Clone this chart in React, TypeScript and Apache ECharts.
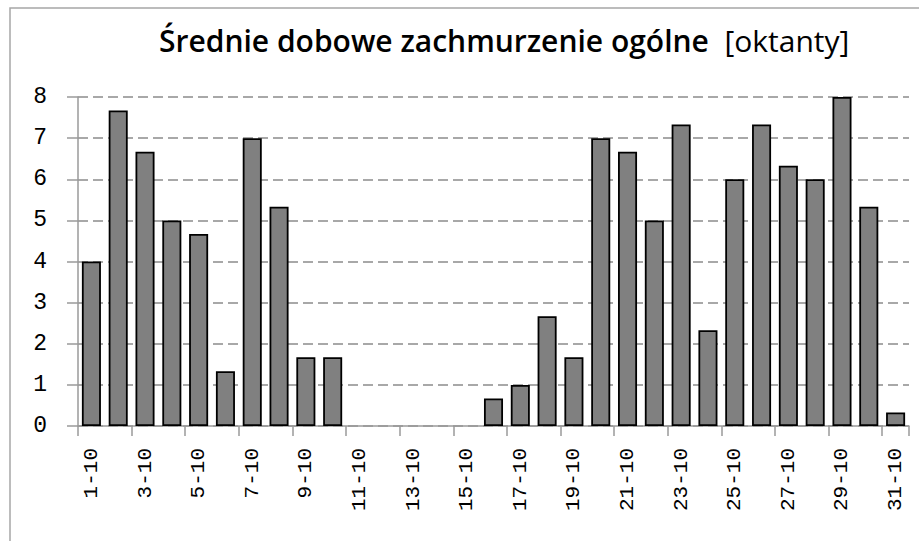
import React, { useEffect, useRef } from "react";
import * as echarts from "echarts";

const categories: string[] = [
  "1-10", "2-10", "3-10", "4-10", "5-10", "6-10", "7-10", "8-10", "9-10", "10-10",
  "11-10", "12-10", "13-10", "14-10", "15-10", "16-10", "17-10", "18-10", "19-10", "20-10",
  "21-10", "22-10", "23-10", "24-10", "25-10", "26-10", "27-10", "28-10", "29-10", "30-10", "31-10",
];

const cloudValues: number[] = [
  4, 7.67, 6.67, 5, 4.67, 1.33, 7, 5.33, 1.67, 1.67,
  0, 0, 0, 0, 0, 0.67, 1, 2.67, 1.67, 7,
  6.67, 5, 7.33, 2.33, 6, 7.33, 6.33, 6, 8, 5.33, 0.33,
];

const yTicks: number[] = [0, 1, 2, 3, 4, 5, 6, 7, 8];

const titleMain = "Średnie dobowe zachmurzenie ogólne";
const titleUnit = "[oktanty]";

export default function App() {
  const ref = useRef<HTMLDivElement>(null);

  useEffect(() => {
    document.body.style.margin = "0";
    if (!ref.current) return;
    const chart = echarts.init(ref.current, null, { renderer: "svg" });
    const axisGray = "#9a9a9a";
    const labelFont = "'Liberation Mono', monospace";
    const barData = cloudValues.map((v) =>
      v === 0 ? { value: v, itemStyle: { borderWidth: 0 } } : v
    );
    chart.setOption({
      animation: false,
      backgroundColor: "#ffffff",
      graphic: [
        {
          type: "rect",
          shape: { x: 10, y: 8, width: 2000, height: 2000 },
          style: { fill: "none", stroke: "#a6a6a6", lineWidth: 1.5 },
          silent: true,
        },
        {
          type: "text",
          x: 159,
          y: 55,
          style: {
            text: `{a|${titleMain}}{b|  ${titleUnit}}`,
            textVerticalAlign: "bottom",
            rich: {
              a: { fontFamily: "Open Sans", fontWeight: 600, fontSize: 30, fill: "#000" },
              b: { fontFamily: "Open Sans", fontWeight: "normal", fontSize: 30, fill: "#000" },
            },
          },
        },
      ],
      grid: { left: 78, right: 10, top: 97, bottom: 115, containLabel: false },
      xAxis: {
        type: "category",
        data: categories,
        boundaryGap: true,
        axisLine: { show: true, lineStyle: { color: axisGray, width: 1.5 } },
        axisTick: { show: true, interval: 1, length: 10, alignWithLabel: false, lineStyle: { color: axisGray, width: 1.5 } },
        axisLabel: {
          interval: 1,
          rotate: 90,
          margin: 22,
          fontFamily: labelFont,
          fontSize: 21,
          color: "#000",
        },
      },
      yAxis: {
        type: "value",
        min: yTicks[0],
        max: yTicks[yTicks.length - 1],
        interval: 1,
        axisLine: { show: true, lineStyle: { color: axisGray, width: 1.5 } },
        axisTick: { show: true, length: 11, lineStyle: { color: axisGray, width: 1.5 } },
        axisLabel: {
          margin: 31,
          fontFamily: labelFont,
          fontSize: 23,
          color: "#000",
        },
        splitLine: {
          show: true,
          lineStyle: { color: "#8c8c8c", width: 1.5, type: [10, 5] },
        },
      },
      series: [
        {
          type: "bar",
          data: barData,
          barCategoryGap: "29%",
          itemStyle: { color: "#808080", borderColor: "#000000", borderWidth: 1.8 },
        },
      ],
    });
    return () => chart.dispose();
  }, []);

  return <div ref={ref} style={{ width: 919, height: 541 }} />;
}
